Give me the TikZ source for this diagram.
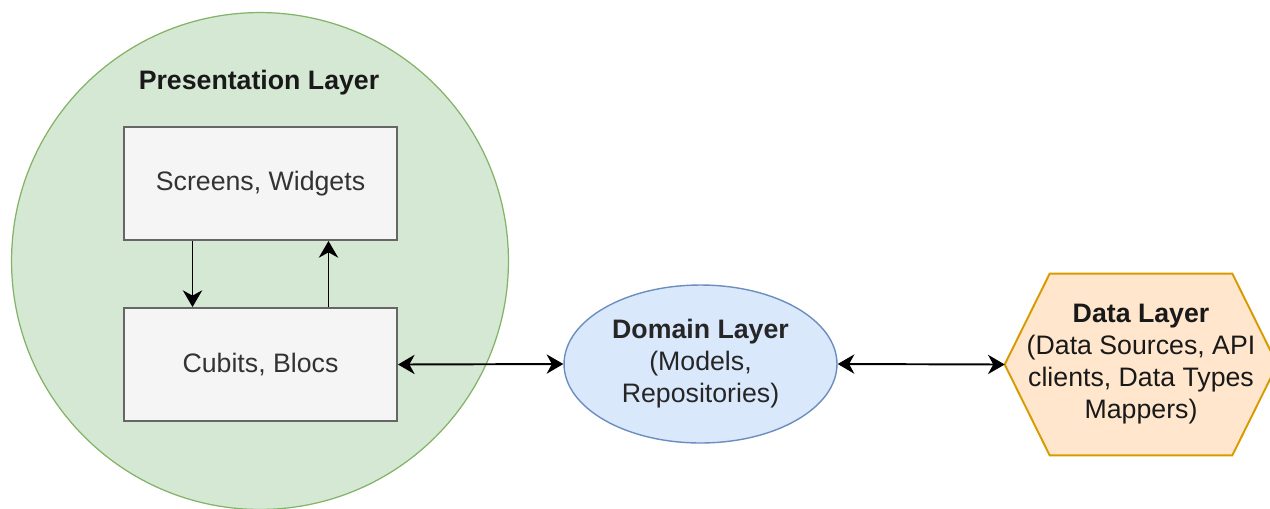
\documentclass[tikz,border=0pt]{standalone}
\usepackage{fontspec}
\setmainfont{Liberation Sans}
\usepackage{xcolor}
\usetikzlibrary{positioning, arrows.meta, backgrounds, shapes.geometric}

\definecolor{presfill}{HTML}{D5E8D4}
\definecolor{presline}{HTML}{82B366}
\definecolor{boxfill}{HTML}{F5F5F5}
\definecolor{boxline}{HTML}{666666}
\definecolor{boxtext}{HTML}{333333}
\definecolor{domfill}{HTML}{DAE8FC}
\definecolor{domline}{HTML}{6C8EBF}
\definecolor{datafill}{HTML}{FFE6CC}
\definecolor{dataline}{HTML}{D79B00}

\begin{document}
\begin{tikzpicture}[
            x=0.02cm, y=-0.02cm,
            font=\fontsize{15.2}{18.2}\selectfont,
            preslayer/.style = {circle, draw=presline, fill=presfill, line width=0.7pt, minimum size=9.94cm},
            part/.style = {rectangle, draw=boxline, fill=boxfill, line width=1.1pt, text=boxtext,
                           minimum width=5.46cm, minimum height=2.26cm},
            domlayer/.style = {ellipse, draw=domline, fill=domfill, line width=0.8pt, text=black!85,
                             minimum width=5.46cm, minimum height=3.16cm, align=center, inner sep=0pt},
            datalayer/.style = {rectangle, minimum width=5.44cm, minimum height=3.62cm, align=center,
                           text=black!90, inner sep=0pt},
            link/.style = {line width=1.1pt, -{Stealth[length=9.5pt, width=11pt, inset=3pt]}},
            twoway/.style = {line width=1.1pt, {Stealth[length=9.5pt, width=11pt, inset=3pt]}-{Stealth[length=9.5pt, width=11pt, inset=3pt]}},
        ]
            \useasboundingbox (0,0) rectangle (1270,508);
            \clip (0,0) rectangle (1270,508);

            % Presentation layer with its two parts
            \node[preslayer] (pres) at (260,261) {};
            \node[font=\fontsize{15.2}{18.2}\selectfont\bfseries, text=black!90] (prestitle) at (259,83) {Presentation Layer};
            \node[part] (screens) at (260.5,183.5) {Screens, Widgets};
            \node[part] (cubits) at (260.5,364.5) {Cubits, Blocs};

            % Domain and data layers
            \node[domlayer] (dom) at (700.5,364) {\textbf{Domain Layer}\\(Models,\\Repositories)};
            \node[datalayer] (dat) at (1141,364.5) {\textbf{Data Layer}\\(Data Sources, API\\clients, Data Types\\Mappers)};
            \begin{scope}[on background layer]
                \draw[draw=dataline, fill=datafill, line width=1.1pt]
                    (dat.west) -- ([xshift=0.9cm]dat.north west) -- ([xshift=-0.9cm]dat.north east)
                    -- (dat.east) -- ([xshift=-0.9cm]dat.south east) -- ([xshift=0.9cm]dat.south west) -- cycle;
            \end{scope}

            % Screens <-> cubits
            \draw[link] ([xshift=-1.36cm]screens.south) -- ([xshift=-1.36cm]cubits.north);
            \draw[link] ([xshift=1.36cm]cubits.north) -- ([xshift=1.36cm]screens.south);

            % Between the layers
            \draw[twoway] (cubits.east) -- (dom.west);
            \draw[twoway] (dom.east) -- (dat.west);
        \end{tikzpicture}
\end{document}
